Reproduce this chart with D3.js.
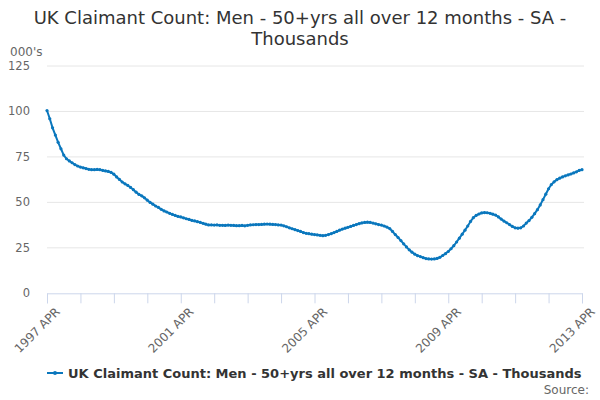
<!DOCTYPE html>
<html>
<head>
<meta charset="utf-8">
<script src="https://cdn.jsdelivr.net/npm/d3@7"></script>
<style>
  body { margin: 0; background: #fff; }
  text { font-family: "DejaVu Sans", sans-serif; }
</style>
</head>
<body>
<div class="graph"></div>
<script>
// monthly values, 1997 APR .. 2013 APR (thousands)
const values = [
  100.5, 96, 91, 87, 83, 79.5, 76, 74, 72.8, 71.8, 70.8, 70,
  69.4, 69, 68.6, 68.2, 68, 68, 68.1, 68, 67.6, 67.3, 67, 66.5,
  65.5, 64, 62.6, 61.2, 60.2, 59.3, 58.2, 57, 55.6, 54.4, 53.6, 52.5,
  51.2, 50, 49, 48, 47.2, 46.2, 45.3, 44.7, 44, 43.4, 42.8, 42.3,
  42, 41.5, 41, 40.6, 40.1, 39.8, 39.4, 39, 38.5, 38, 37.6, 37.6,
  37.5, 37.6, 37.4, 37.4, 37.3, 37.5, 37.4, 37.3, 37.2, 37.2, 37.3, 37.1,
  37.4, 37.6, 37.7, 37.8, 37.8, 37.9, 38, 38.1, 38, 37.9, 37.8, 37.6,
  37.5, 37.1, 36.6, 36, 35.5, 35, 34.5, 34, 33.4, 33, 32.8, 32.5,
  32.3, 32.1, 31.9, 31.7, 31.9, 32.3, 32.8, 33.4, 34, 34.7, 35.3, 35.8,
  36.3, 36.8, 37.3, 37.8, 38.3, 38.7, 39, 39.1, 39, 38.6, 38.2, 37.8,
  37.5, 37, 36.4, 35.6, 34, 32.3, 30.7, 29, 27.2, 25.5, 23.9, 22.6,
  21.5, 20.7, 20.2, 19.6, 19.1, 18.9, 18.8, 18.9, 19.2, 19.8, 20.8, 21.8,
  23, 24.5, 26.2, 28.2, 30.3, 32.5, 34.7, 37, 39.5, 41.6, 42.8, 43.6,
  44.2, 44.4, 44.3, 44, 43.5, 43, 42, 40.8, 39.7, 38.8, 37.8, 36.8,
  36, 35.8, 36, 37, 38.6, 40, 41.8, 43.8, 46, 48.6, 51.5, 54.5,
  57.5, 59.8, 61.3, 62.5, 63.3, 64, 64.6, 65.1, 65.6, 66.2, 66.8, 67.6,
  68
]
const yTicks = [0, 25, 50, 75, 100, 125]
const tickLabels = ["1997 APR", "2001 APR", "2005 APR", "2009 APR", "2013 APR"]
const seriesName = "UK Claimant Count: Men - 50+yrs all over 12 months - SA - Thousands"

const w = 600
const h = 400
const color = "#0a77bd"

const svg = d3.select(".graph")
  .append("svg")
  .attr("width", w)
  .attr("height", h)
  .style("background", "#fff")

const x = d3.scaleLinear().domain([0, values.length - 1]).range([47, 582])
const y = d3.scaleLinear().domain([0, 125]).range([293.3, 66])

// title
svg.append("text")
  .attr("x", 300).attr("y", 24)
  .attr("text-anchor", "middle")
  .style("font-size", "18px").style("fill", "#333")
  .text("UK Claimant Count: Men - 50+yrs all over 12 months - SA -")
svg.append("text")
  .attr("x", 300).attr("y", 45)
  .attr("text-anchor", "middle")
  .style("font-size", "18px").style("fill", "#333")
  .text("Thousands")

svg.append("text")
  .attr("x", 10).attr("y", 56)
  .style("font-size", "12px").style("fill", "#666")
  .text("000's")

// grid + y labels
svg.selectAll(".grid")
  .data(yTicks.filter(d => d > 0))
  .enter()
  .append("line")
  .attr("x1", 47).attr("x2", 584)
  .attr("y1", d => y(d)).attr("y2", d => y(d))
  .style("stroke", "#e6e6e6")

svg.selectAll(".ylab")
  .data(yTicks)
  .enter()
  .append("text")
  .attr("x", 30)
  .attr("y", d => y(d) + 4)
  .attr("text-anchor", "end")
  .style("font-size", "11.5px").style("fill", "#666")
  .text(d => d)

// x axis
const xAxis = d3.axisBottom(x)
  .tickValues(d3.range(0, values.length, 12))
  .tickSize(10)
  .tickFormat(d => d % 48 === 0 ? tickLabels[d / 48] : "")

const gx = svg.append("g")
  .attr("transform", "translate(0," + y(0) + ")")
  .call(xAxis)
gx.select(".domain").style("stroke", "#ccd6eb")
gx.selectAll(".tick line").style("stroke", "#ccd6eb")
gx.selectAll(".tick text")
  .style("font-size", "12px").style("fill", "#666")
  .style("font-family", "DejaVu Sans, sans-serif")
  .attr("text-anchor", "end")
  .attr("dy", null)
  .attr("transform", "translate(4,10) rotate(-45)")

// series line
const line = d3.line()
  .x((d, i) => x(i))
  .y(d => y(d))

svg.append("path")
  .datum(values)
  .attr("d", line)
  .style("fill", "none")
  .style("stroke", color)
  .style("stroke-width", 2)

svg.selectAll(".pt")
  .data(values)
  .enter()
  .append("circle")
  .attr("cx", (d, i) => x(i))
  .attr("cy", d => y(d))
  .attr("r", 1.6)
  .style("fill", color)

// legend
const lg = svg.append("g")
lg.append("line")
  .attr("x1", 47).attr("x2", 63)
  .attr("y1", 373).attr("y2", 373)
  .style("stroke", color).style("stroke-width", 2)
lg.append("circle")
  .attr("cx", 55).attr("cy", 373).attr("r", 2)
  .style("fill", color)
lg.append("text")
  .attr("x", 68).attr("y", 378)
  .style("font-size", "13px").style("font-weight", "bold").style("fill", "#333")
  .text(seriesName)

svg.append("text")
  .attr("x", 589).attr("y", 394)
  .attr("text-anchor", "end")
  .style("font-size", "12px").style("fill", "#666")
  .text("Source:")
</script>
</body>
</html>
